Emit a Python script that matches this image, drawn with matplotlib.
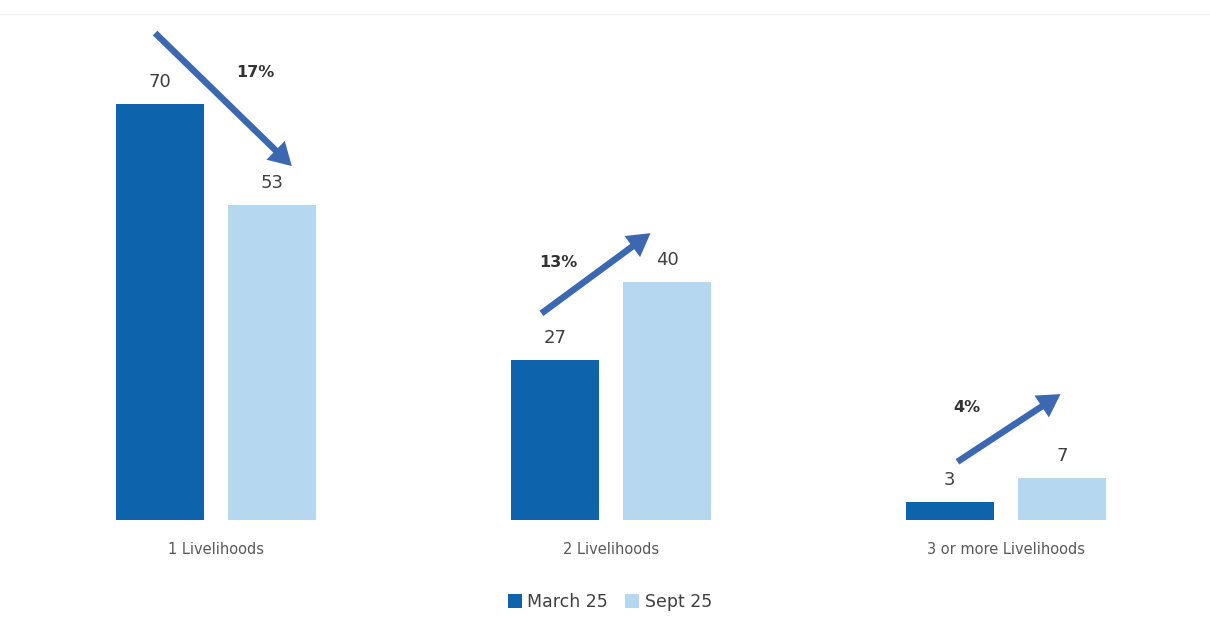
import numpy as np
import matplotlib.pyplot as plt
from matplotlib.lines import Line2D

# data
categories = ['1 Livelihoods', '2 Livelihoods', '3 or more Livelihoods']
march = [70, 27, 3]
sept = [53, 40, 7]
changes = ['17%', '13%', '4%']
series_names = ['March 25', 'Sept 25']

c_march = '#0d64ad'
c_sept = '#b6d7f0'
c_arrow = '#3b68b0'

fig = plt.figure(figsize=(12.1, 6.23), dpi=100)
ax = fig.add_axes([20 / 1210, 103 / 623, 1180 / 1210, 500 / 623])

x = np.arange(len(categories))
w = 0.223
off = 0.142
b1 = ax.bar(x - off, march, w, color=c_march, label=series_names[0])
b2 = ax.bar(x + off, sept, w, color=c_sept, label=series_names[1])

for bars in (b1, b2):
    for r in bars:
        ax.text(r.get_x() + r.get_width() / 2, r.get_height() + 2.2, f'{r.get_height():.0f}',
                ha='center', va='bottom', fontsize=13, color='#404040')

ax.set_xlim(-0.496, 2.491)
ax.set_ylim(0, 84.2)
ax.set_xticks(x)
ax.set_xticklabels(categories, fontsize=10.5, color='#595959')
ax.tick_params(axis='x', length=0, pad=16)
ax.set_yticks([])
for s in ax.spines.values():
    s.set_visible(False)

# trend arrows (offsets from group centres)
arrows = [((-0.154, 82.0), (0.192, 59.6), (0.099, 75.4)),
          ((-0.176, 34.8), (0.100, 48.3), (-0.133, 43.4)),
          ((-0.123, 9.8), (0.138, 21.2), (-0.100, 18.9))]
for i, (start, end, lab) in enumerate(arrows):
    ax.annotate('', xy=(x[i] + end[0], end[1]), xytext=(x[i] + start[0], start[1]),
                arrowprops=dict(arrowstyle='simple,head_width=1.45,head_length=1.25,tail_width=0.36',
                                color=c_arrow, mutation_scale=13, shrinkA=0, shrinkB=0, lw=0))
    ax.text(x[i] + lab[0], lab[1], changes[i], ha='center', va='center',
            fontsize=11.5, fontweight='bold', color='#333333')

fig.legend(handles=[b1, b2], loc='center', bbox_to_anchor=(610 / 1210, 1 - 602 / 623),
           ncol=2, frameon=False, fontsize=12.5, handlelength=0.8, handleheight=0.8,
           handletextpad=0.3, columnspacing=1.0, labelcolor='#404040')

# faint top border line
fig.add_artist(Line2D([0, 1], [1 - 14 / 623] * 2, color='#eeeeee', lw=1))

fig.savefig('out.png', dpi=100, facecolor='white')
